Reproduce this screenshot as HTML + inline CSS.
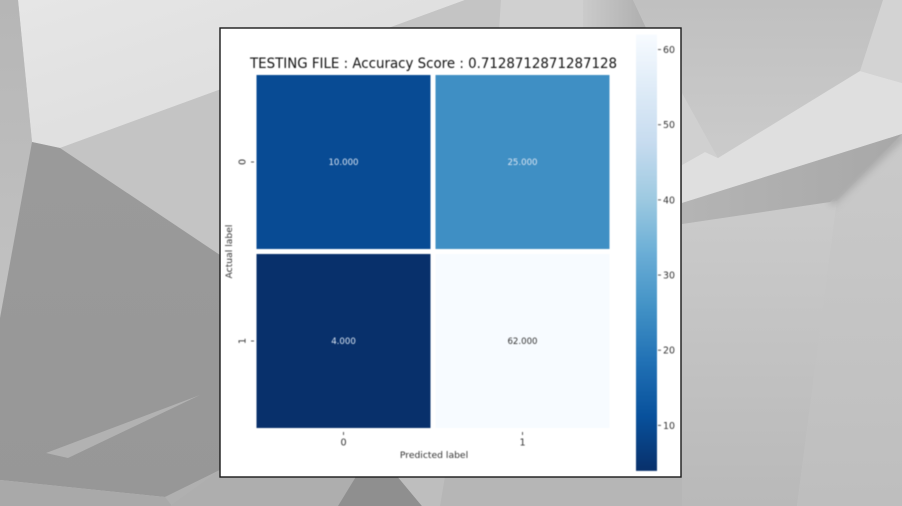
<!DOCTYPE html>
<html lang="en">
<head>
<meta charset="utf-8">
<title>Confusion matrix heatmap</title>
<style>
html,body{margin:0;padding:0;width:902px;height:506px;overflow:hidden;background:#c4c4c4}
svg{display:block;position:absolute;left:0;top:0}
text{font-family:"DejaVu Sans","Liberation Sans",sans-serif}
</style>
</head>
<body>
<svg id="bg" width="902" height="506" viewBox="0 0 902 506" xmlns="http://www.w3.org/2000/svg">
  <defs>
    <linearGradient id="gTop" x1="0" y1="0" x2="1" y2="1"><stop offset="0" stop-color="#e6e6e6"/><stop offset="1" stop-color="#dadada"/></linearGradient>
    <linearGradient id="gLeft" x1="0" y1="0" x2="0" y2="1"><stop offset="0" stop-color="#b6b6b6"/><stop offset="1" stop-color="#c2c2c2"/></linearGradient>
    <linearGradient id="gDark" x1="0" y1="0" x2="0" y2="1"><stop offset="0" stop-color="#9a9a9a"/><stop offset="1" stop-color="#979797"/></linearGradient>
    <linearGradient id="gBand" x1="0" y1="0" x2="1" y2="0"><stop offset="0" stop-color="#b4b4b4"/><stop offset="1" stop-color="#a8a8a8"/></linearGradient>
    <linearGradient id="gRT" x1="0" y1="0" x2="0" y2="1"><stop offset="0" stop-color="#c0c0c0"/><stop offset="1" stop-color="#cbcbcb"/></linearGradient>
    <linearGradient id="gRB" x1="0" y1="0" x2="0" y2="1"><stop offset="0" stop-color="#cacaca"/><stop offset="1" stop-color="#bebebe"/></linearGradient>
    <linearGradient id="gRC" x1="0" y1="0" x2="0" y2="1"><stop offset="0" stop-color="#cbcbcb"/><stop offset="1" stop-color="#b9b9b9"/></linearGradient>
    <linearGradient id="gNotch" x1="0" y1="0" x2="1" y2="0"><stop offset="0" stop-color="#cbcbcb"/><stop offset="1" stop-color="#aeaeae"/></linearGradient>
    <filter id="soft" x="-20%" y="-20%" width="140%" height="140%"><feGaussianBlur stdDeviation="4"/></filter>
  </defs>
  <rect width="902" height="506" fill="#c4c4c4"/>
  <polygon points="18,0 465,0 60,148 32,142" fill="url(#gTop)"/>
  <polygon points="60,148 465,0 501,0 501,340 220,255" fill="#c4c4c4"/>
  <polygon points="501,0 583,0 583,30 499,30" fill="#d0d0d0"/>
  <polygon points="583,0 633,0 647,30 583,30" fill="url(#gNotch)"/>
  <polygon points="633,0 883,0 860,71 718,158 683,95 647,28" fill="url(#gRT)"/>
  <polygon points="0,0 18,0 32,142 0,318" fill="url(#gLeft)"/>
  <polygon points="32,142 60,148 220,255 230,480 165,497 0,480 0,318" fill="url(#gDark)"/>
  <polygon points="0,480 165,497 230,465 230,506 0,506" fill="#a9a9a9"/>
  <polygon points="165,497 230,465 230,506 172,506" fill="#b0b0b0"/>
  <polygon points="46,453 200,395 68,458" fill="#b2b2b2"/>
  <polygon points="220,470 400,470 338,506 170,506" fill="#aeaeae"/>
  <polygon points="360,470 392,470 422,506 338,506" fill="#8f8f8f"/>
  <polygon points="392,470 446,470 440,506 422,506" fill="#bebebe"/>
  <polygon points="446,470 690,470 690,506 440,506" fill="#b6b6b6"/>
  <polygon points="883,0 902,0 902,83 860,71" fill="#d3d3d3"/>
  <polygon points="682,93 718,158 705,152 682,165" fill="#d0d0d0"/>
  <polygon points="682,224 837,201 797,506 682,506" fill="url(#gRC)"/>
  <polygon points="837,201 902,134 902,506 797,506" fill="url(#gRB)"/>
  <line x1="902" y1="134" x2="830" y2="202" stroke="#8a8a8a" stroke-width="10" opacity="0.5" filter="url(#soft)"/>
  <polygon points="682,165 705,152 718,158 860,71 902,83 902,134 682,203" fill="#dfdfdf"/>
  <polygon points="682,203 902,134 830,202 682,224" fill="url(#gBand)"/>
</svg>

<svg id="chart" width="902" height="506" viewBox="0 0 902 506" xmlns="http://www.w3.org/2000/svg">
  <rect x="220" y="28" width="461" height="449" fill="#ffffff" stroke="#1a1a1a" stroke-width="1.4"/>
  <g id="plot" style="filter:blur(0.5px)">
    <text x="250" y="68" font-size="14.2" textLength="367" lengthAdjust="spacingAndGlyphs" fill="#111">TESTING FILE : Accuracy Score : 0.7128712871287128</text>
    <text x="434" y="458" text-anchor="middle" font-size="9.2" fill="#333">Predicted label</text>
    <text transform="translate(232,251.5) rotate(-90)" text-anchor="middle" font-size="9.2" fill="#333">Actual label</text>
    <g id="cells"></g>
    <g id="colorbar"></g>
  </g>
</svg>

<script>
const categories = ["0", "1"];
const row0Values = [10, 25];
const row1Values = [4, 62];
const cellLabels = ["10.000", "25.000", "4.000", "62.000"];
const colorbarTicks = [10, 20, 30, 40, 50, 60];

const matrix = [row0Values, row1Values];
const allValues = row0Values.concat(row1Values);
const vMin = Math.min.apply(null, allValues);
const vMax = Math.max.apply(null, allValues);
const NS = 'http://www.w3.org/2000/svg';
const blues = ['#08306b','#08519c','#2171b5','#4292c6','#6baed6','#9ecae1','#c6dbef','#deebf7','#f7fbff'];

function hexToRgb(h){ return [1,3,5].map(function(i){ return parseInt(h.substr(i,2),16); }); }
function colorFor(v){
  const t = Math.max(0, Math.min(1, (v - vMin) / ((vMax - vMin) || 1)));
  const p = t * (blues.length - 1);
  const i = Math.min(blues.length - 2, Math.floor(p));
  const a = hexToRgb(blues[i]), b = hexToRgb(blues[i + 1]), f = p - i;
  return 'rgb(' + a.map(function(c, k){ return Math.round(c + (b[k] - c) * f); }).join(',') + ')';
}
function xBand(i){ return 254 + i * 179; }
function yBand(i){ return 72.5 + i * 179; }
const bandSize = 179;
const cellInset = 2.5;
const cbTop = 34.5, cbBottom = 470.5, cbLeft = 636, cbWidth = 21;
function cbY(v){ return cbBottom - (v - vMin) / ((vMax - vMin) || 1) * (cbBottom - cbTop); }
function make(tag, attrs, parent){
  const el = document.createElementNS(NS, tag);
  Object.keys(attrs).forEach(function(k){ el.setAttribute(k, attrs[k]); });
  parent.appendChild(el);
  return el;
}

const cellsG = document.getElementById('cells');
matrix.forEach(function(row, r){
  row.forEach(function(v, c){
    const cell = make('rect', {x: xBand(c) + cellInset, y: yBand(r) + cellInset, width: bandSize - 2 * cellInset, height: bandSize - 2 * cellInset, fill: colorFor(v)}, cellsG);
    
    
    const t = (v - vMin) / ((vMax - vMin) || 1);
    const label = make('text', {x: xBand(c) + bandSize / 2, y: yBand(r) + bandSize / 2 + 3, 'text-anchor': 'middle', 'font-size': 8.6, fill: t > 0.6 ? '#333333' : '#dbe6f3'}, cellsG);
    
    
    label.textContent = cellLabels[r * row.length + c];
  });
});

categories.forEach(function(cat, i){
  const cx = xBand(i) + bandSize / 2;
  const xTick = make('line', {x1: cx, x2: cx, y1: 432, y2: 435, stroke: '#555', 'stroke-width': 1}, cellsG);
  
  
  const xLabel = make('text', {x: cx, y: 445.5, 'text-anchor': 'middle', 'font-size': 9.6, fill: '#333'}, cellsG);
  
  
  xLabel.textContent = cat;
  const cy = yBand(i) + bandSize / 2;
  const yTick = make('line', {x1: 251, x2: 254, y1: cy, y2: cy, stroke: '#555', 'stroke-width': 1}, cellsG);
  
  
  const yLabel = make('text', {transform: 'translate(245.5,' + cy + ') rotate(-90)', 'text-anchor': 'middle', 'font-size': 9.6, fill: '#333'}, cellsG);
  
  
  yLabel.textContent = cat;
});

const cbG = document.getElementById('colorbar');
for (let py = cbTop; py < cbBottom; py += 2) {
  const value = vMax - (py + 1 - cbTop) / (cbBottom - cbTop) * (vMax - vMin);
  const seg = make('rect', {x: cbLeft, y: py, width: cbWidth, height: 2.4, fill: colorFor(value)}, cbG);
  
  
}
colorbarTicks.forEach(function(v){
  const y = cbY(v);
  const tick = make('line', {x1: 658, x2: 661, y1: y, y2: y, stroke: '#555', 'stroke-width': 1}, cbG);
  
  
  const label = make('text', {x: 663, y: y + 3.5, 'font-size': 9.4, fill: '#333'}, cbG);
  
  
  label.textContent = v;
});
</script>
</body>
</html>
